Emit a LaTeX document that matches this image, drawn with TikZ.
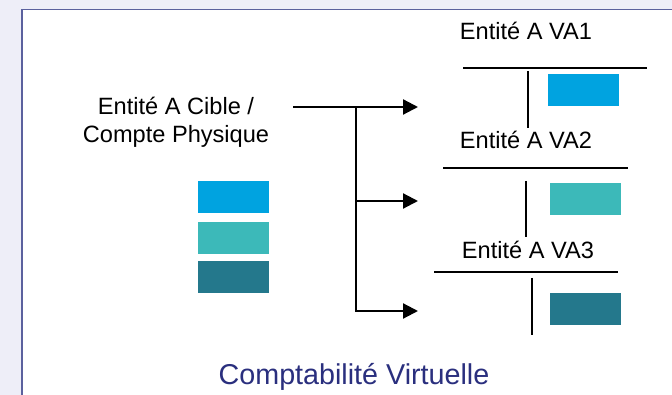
\documentclass[tikz,border=0pt]{standalone}
\usepackage{fontspec}
\setmainfont{Liberation Sans}
\usetikzlibrary{arrows.meta}
\definecolor{bgl}{HTML}{EEEEF8}
\definecolor{frameb}{HTML}{5B619E}
\definecolor{cA}{HTML}{00A3E0}
\definecolor{cB}{HTML}{3CB9B9}
\definecolor{cC}{HTML}{24788C}
\definecolor{titleblue}{HTML}{2A2F7E}
\tikzset{
  lbl/.style={font=\fontsize{23.6}{28}\selectfont, inner sep=0pt, anchor=base},
  bar/.style={line width=2.2pt, black},
  conn/.style={line width=2.2pt, black},
  arr/.style={conn, -{Triangle[length=15pt,width=15pt]}},
}
\begin{document}
\begin{tikzpicture}[x=1pt,y=-1pt]
\useasboundingbox (0,0) rectangle (672,395);
\fill[bgl] (0,0) rectangle (672,395);
\filldraw[fill=white, draw=frameb, line width=1.4pt] (22,9.5) rectangle (690,410);

% source
\node[lbl, align=center] (src) at (176,143) {Entité A Cible /\\Compte Physique};
\fill[cA] (198,181) rectangle (269,213);
\fill[cB] (198,222) rectangle (269,254);
\fill[cC] (198,261) rectangle (269,293);

% connectors
\coordinate (start) at (293,107);
\coordinate (j) at (356,107);
\coordinate (t1) at (418,107);
\coordinate (t2) at (418,201);
\coordinate (t3) at (418,311);
\draw[arr] (start) -- (t1);
\draw[arr] (j) -- (j|-t3) -- (t3);
\draw[arr] (j|-t2) -- (t2);

% VA1
\node[lbl] (va1) at (526,40) {Entité A VA1};
\draw[bar] (463,68) -- (647,68);
\draw[bar] (528,71) -- (528,128);
\fill[cA] (548,74) rectangle (619,106);

% VA2
\node[lbl] (va2) at (526,149) {Entité A VA2};
\draw[bar] (443,168) -- (628,168);
\draw[bar] (526,181) -- (526,237);
\fill[cB] (550,183) rectangle (621,215);

% VA3
\node[lbl] (va3) at (528,259) {Entité A VA3};
\draw[bar] (434,272) -- (618,272);
\draw[bar] (532,278) -- (532,335);
\fill[cC] (550,293) rectangle (621,325);

% title
\node[inner sep=0pt, anchor=base, text=titleblue, font=\fontsize{28.7}{34}\selectfont] (title) at (354,384) {Comptabilité Virtuelle};
\end{tikzpicture}
\end{document}
